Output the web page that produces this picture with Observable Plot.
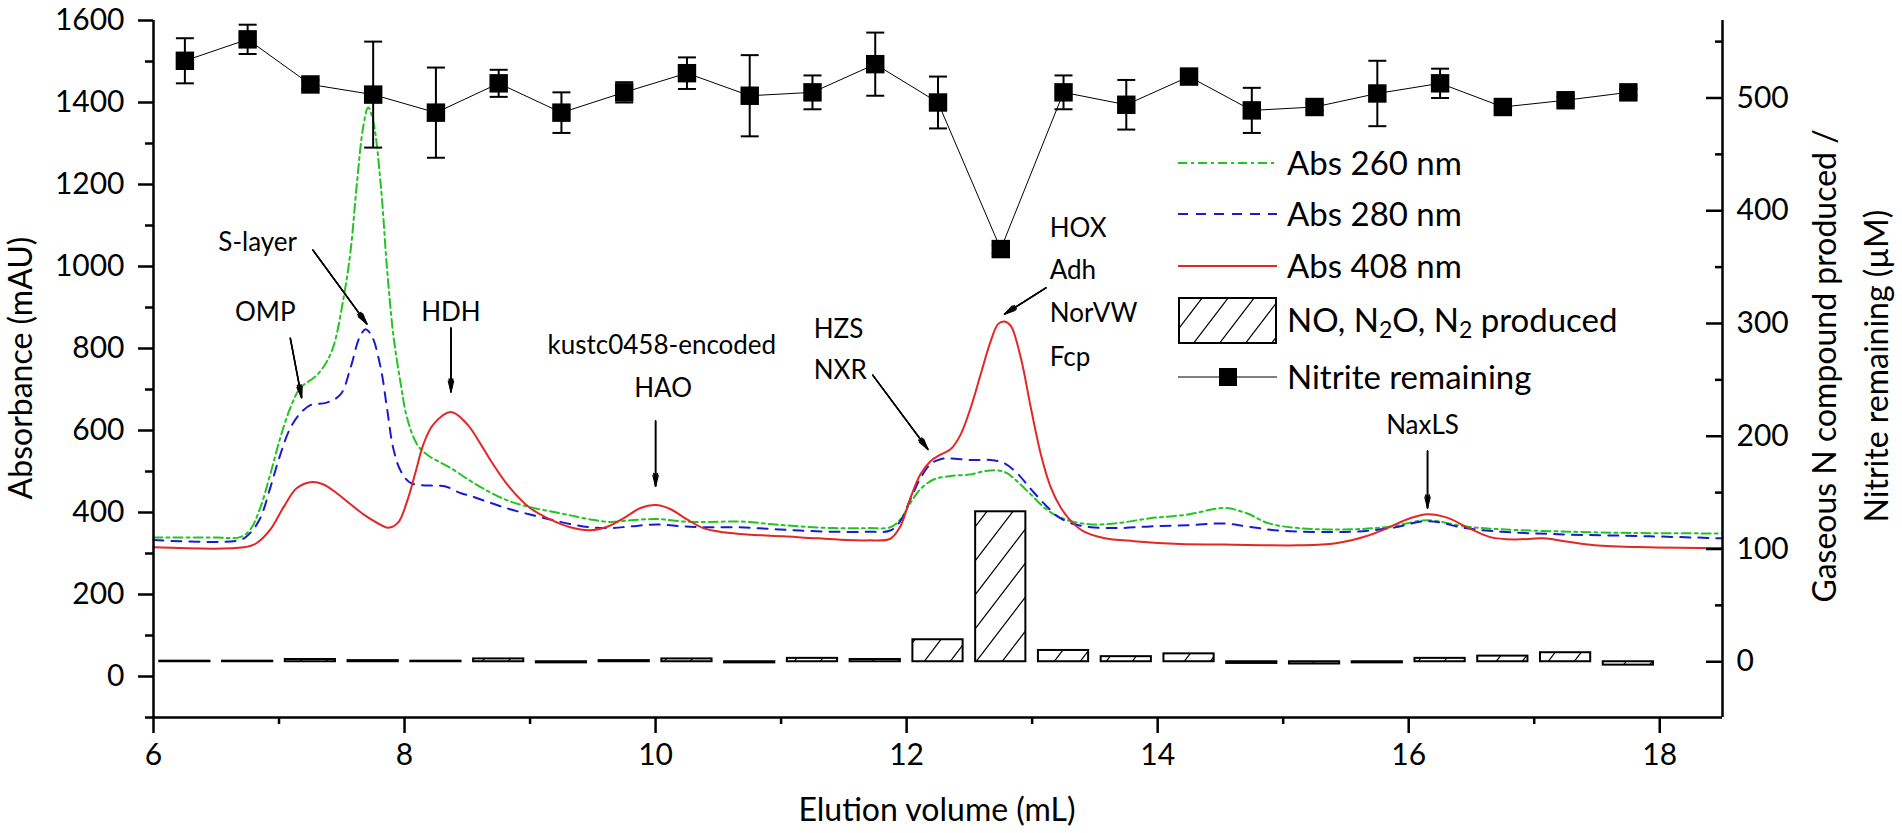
<!DOCTYPE html>
<html>
<head>
<meta charset="utf-8">
<script src="https://cdn.jsdelivr.net/npm/d3@7"></script>
<script src="https://cdn.jsdelivr.net/npm/@observablehq/plot@0.6"></script>
<style>
  html, body { margin: 0; padding: 0; background: white; }
  #chart { width: 1902px; height: 833px; }
</style>
</head>
<body>
<div id="chart"></div>
<script>
// ---------------- DATA ----------------
// Abs 260 nm (green, dash-dot)
const vol260 = [6.0,6.5,6.69,6.77,6.85,6.93,7.01,7.09,7.17,7.28,7.35,7.43,7.51,7.57,7.62,7.67,7.71,7.75,7.81,7.86,7.91,7.97,8.02,8.10,8.18,8.37,8.53,8.69,8.84,9.00,9.16,9.32,9.48,9.64,9.80,10.01,10.22,10.43,10.67,10.91,11.15,11.42,11.69,11.87,11.95,12.03,12.11,12.22,12.35,12.51,12.62,12.72,12.80,12.88,12.99,13.10,13.20,13.31,13.47,13.68,13.94,14.24,14.53,14.71,14.88,15.12,15.56,15.86,16.15,16.45,16.74,17.19,17.78,18.5];
const abs260 = [339,339,340,358,411,493,582,655,704,729,753,802,916,1038,1201,1339,1388,1355,1201,997,835,713,631,566,541,508,476,448,427,413,403,393,383,377,381,384,378,377,378,372,366,362,362,364,383,423,457,481,489,493,501,503,496,476,444,411,391,379,371,374,386,395,411,398,374,362,359,366,381,366,359,354,350,349];
// Abs 280 nm (blue, dashed)
const vol280 = [6.0,6.69,6.77,6.85,6.93,7.01,7.09,7.17,7.25,7.38,7.49,7.57,7.64,7.69,7.74,7.81,7.86,7.91,7.97,8.05,8.18,8.32,8.45,8.53,8.69,8.84,9.00,9.16,9.32,9.48,9.64,9.80,10.01,10.22,10.43,10.67,10.91,11.15,11.42,11.69,11.87,11.95,12.03,12.11,12.19,12.27,12.35,12.51,12.67,12.78,12.88,12.99,13.10,13.20,13.31,13.47,13.68,13.94,14.24,14.53,14.71,14.97,15.53,15.86,16.15,16.45,16.74,17.19,17.92,18.5];
const abs280 = [333,333,350,386,460,541,606,642,662,668,688,753,826,847,830,753,655,557,501,472,466,464,447,440,423,408,395,383,372,364,362,366,371,366,364,364,360,356,353,353,356,379,432,484,518,530,532,528,528,520,496,457,420,391,374,364,362,366,369,373,366,356,353,362,379,362,353,347,342,337];
// Abs 408 nm (red, solid)
const vol408 = [6.0,6.72,6.82,6.93,7.04,7.14,7.25,7.35,7.46,7.57,7.67,7.78,7.87,7.95,8.02,8.09,8.15,8.23,8.37,8.50,8.61,8.69,8.84,9.00,9.16,9.32,9.48,9.62,9.75,9.88,10.0,10.12,10.25,10.38,10.54,10.76,11.02,11.29,11.69,11.87,11.95,12.03,12.11,12.19,12.27,12.35,12.43,12.51,12.59,12.67,12.73,12.78,12.83,12.91,12.99,13.07,13.15,13.23,13.31,13.41,13.57,13.81,14.18,14.53,15.12,15.42,15.66,15.83,16.01,16.15,16.30,16.48,16.65,16.84,17.07,17.24,17.48,17.92,18.5];
const abs408 = [315,315,325,358,415,459,474,469,447,420,396,375,363,376,427,501,566,615,645,615,565,525,460,411,383,364,357,366,387,411,418,408,383,362,352,346,342,337,332,336,366,435,493,525,541,554,590,655,737,818,860,866,855,777,655,541,460,411,379,354,338,330,323,322,320,325,342,362,386,396,388,362,340,334,337,330,320,315,313];

// Fractions (right axis, µM)
const fractionVol = [6.25,6.75,7.25,7.75,8.25,8.75,9.25,9.75,10.25,10.75,11.25,11.75,12.25,12.75,13.25,13.75,14.25,14.75,15.25,15.75,16.25,16.75,17.25,17.75];
const nitriteRemaining = [533,552,512,503,487,513,487,505,522,502,505,530,496,366,505,494,519,489,492,504,513,492,498,505];
const nitriteError    = [20,13,4,47,40,12,18,9,14,36,15,28,23,4,15,22,4,20,3,29,13,3,3,3];
const gasProduced     = [0.5,0.5,2,1,0.5,2.5,-1,1,2.5,-1,3,2,19.5,133,10,4.5,7,-1.5,-2,-1,3,5,8,-3];

// Axis ticks
const xMajor = [6,8,10,12,14,16,18];
const xMinor = [7,9,11,13,15,17];
const yLeftMajor = [0,200,400,600,800,1000,1200,1400,1600];
const yLeftMinor = [-100,100,300,500,700,900,1100,1300,1500];
const yRightMajor = [0,100,200,300,400,500];
const yRightMinor = [50,150,250,350,450,550];

// Annotations (x in mL, y in mAU)
const labelsCentered = [
  {text:"S-layer", x:6.83, y:1058},
  {text:"OMP", x:6.89, y:887},
  {text:"HDH", x:8.37, y:887},
  {text:"kustc0458-encoded", x:10.05, y:806},
  {text:"HAO", x:10.06, y:701},
  {text:"NaxLS", x:16.11, y:611}
];
const labelsLeft = [
  {text:"HZS", x:11.26, y:847},
  {text:"NXR", x:11.26, y:745},
  {text:"HOX", x:13.14, y:1092},
  {text:"Adh", x:13.14, y:989},
  {text:"NorVW", x:13.14, y:884},
  {text:"Fcp", x:13.14, y:777}
];
const arrows = [
  {x1:7.27, y1:1040, x2:7.70, y2:860},
  {x1:7.09, y1:825, x2:7.18, y2:680},
  {x1:8.37, y1:850, x2:8.37, y2:694},
  {x1:10.0, y1:623, x2:10.0, y2:464},
  {x1:11.73, y1:735, x2:12.17, y2:554},
  {x1:13.11, y1:948, x2:12.78, y2:884},
  {x1:16.15, y1:550, x2:16.15, y2:411}
];

// ---------------- BUILD ----------------
const toLeft = r => 36 + 2.75 * r;       // right axis (µM) -> left axis (mAU)
const fromLeft = L => (L - 36) / 2.75;

const green = "#22c422", blue = "#1a1ad2", red = "#e32626";
const s260 = d3.zip(vol260, abs260).map(([x, y]) => ({x, y}));
const s280 = d3.zip(vol280, abs280).map(([x, y]) => ({x, y}));
const s408 = d3.zip(vol408, abs408).map(([x, y]) => ({x, y}));
const fr = fractionVol.map((x, i) => ({
  x, r: nitriteRemaining[i], e: nitriteError[i], g: gasProduced[i]
}));

const capSymbol = {
  draw(ctx, size) {
    const r = Math.sqrt(size / Math.PI);
    ctx.moveTo(-r, 0); ctx.lineTo(r, 0);
  }
};

const AX = 2.5;
const ANN = 26;
const plot = Plot.plot({
  width: 1902, height: 833,
  marginLeft: 153, marginRight: 180, marginTop: 20, marginBottom: 116,
  style: {fontFamily: "Lato, 'Open Sans', sans-serif", background: "white", color: "black"},
  x: {domain: [6, 18.5]},
  y: {domain: [-100, 1600]},
  marks: [
    // bars: gaseous N produced
    Plot.rect(fr, {x1: d => d.x - 0.2, x2: d => d.x + 0.2, y1: () => toLeft(0), y2: d => toLeft(d.g),
      fill: "url(#hatch)", stroke: "black", strokeWidth: 2}),
    // absorbance curves
    Plot.line(s260, {x: "x", y: "y", stroke: green, strokeWidth: 2, strokeDasharray: "9,4,3,4", curve: "catmull-rom"}),
    Plot.line(s280, {x: "x", y: "y", stroke: blue, strokeWidth: 2, strokeDasharray: "10,8", curve: "catmull-rom"}),
    Plot.line(s408, {x: "x", y: "y", stroke: red, strokeWidth: 2, curve: "catmull-rom"}),
    // nitrite remaining
    Plot.line(fr, {x: "x", y: d => toLeft(d.r), stroke: "black", strokeWidth: 1}),
    Plot.link(fr, {x1: "x", x2: "x", y1: d => toLeft(d.r - d.e), y2: d => toLeft(d.r + d.e), stroke: "black", strokeWidth: 2}),
    Plot.dot(fr, {x: "x", y: d => toLeft(d.r + d.e), symbol: capSymbol, r: 9, stroke: "black", strokeWidth: 2}),
    Plot.dot(fr, {x: "x", y: d => toLeft(d.r - d.e), symbol: capSymbol, r: 9, stroke: "black", strokeWidth: 2}),
    Plot.dot(fr, {x: "x", y: d => toLeft(d.r), symbol: "square", r: 10.4, fill: "black", stroke: null}),
    // annotations
    Plot.arrow(arrows, {x1: "x1", y1: "y1", x2: "x2", y2: "y2", stroke: "black", strokeWidth: 1.2, headLength: 14, headAngle: 28}),
    Plot.arrow(arrows, {x1: "x1", y1: "y1", x2: "x2", y2: "y2", stroke: "black", strokeWidth: 1.5, headLength: 13, headAngle: 16}),
    Plot.arrow(arrows, {x1: "x1", y1: "y1", x2: "x2", y2: "y2", stroke: "black", strokeWidth: 1.5, headLength: 12, headAngle: 6}),
    Plot.text(labelsCentered, {x: "x", y: "y", text: "text", textAnchor: "middle", fontSize: ANN, fill: "black"}),
    Plot.text(labelsLeft, {x: "x", y: "y", text: "text", textAnchor: "start", fontSize: ANN, fill: "black"}),
    // axes
    Plot.axisX({ticks: xMajor, tickSize: 16, tickPadding: 10, fontSize: 30, label: null, strokeWidth: AX, tickFormat: d => String(d)}),
    Plot.axisX({ticks: xMinor, tickSize: 7, tickFormat: () => "", label: null, strokeWidth: AX}),
    Plot.axisY({ticks: yLeftMajor, tickSize: 15, tickPadding: 14, fontSize: 30, label: null, strokeWidth: AX, tickFormat: d => String(d)}),
    Plot.axisY({ticks: yLeftMinor, tickSize: 8, tickFormat: () => "", label: null, strokeWidth: AX}),
    Plot.axisY({ticks: yRightMajor.map(toLeft), anchor: "right", tickSize: 0, tickPadding: 14, fontSize: 30,
      tickFormat: d => String(Math.round(fromLeft(d))), label: null}),
    Plot.axisY({ticks: yRightMajor.map(toLeft), anchor: "right", tickSize: 17, dx: -17, tickFormat: () => "", label: null, strokeWidth: AX}),
    Plot.axisY({ticks: yRightMinor.map(toLeft), anchor: "right", tickSize: 8, dx: -8, tickFormat: () => "", label: null, strokeWidth: AX}),
    Plot.ruleX([6], {strokeWidth: AX}),
    Plot.ruleX([18.5], {strokeWidth: AX}),
    Plot.ruleY([-100], {strokeWidth: AX})
  ]
});

const svg = d3.select(plot);
// hatch pattern
const defs = svg.insert("defs", ":first-child");
const pat = defs.append("pattern").attr("id", "hatch").attr("patternUnits", "userSpaceOnUse")
  .attr("width", 26).attr("height", 34);
pat.append("rect").attr("width", 26).attr("height", 34).attr("fill", "white");
pat.append("path").attr("d", "M0,34L26,0M-6.5,8.5L6.5,-8.5M19.5,42.5L32.5,25.5")
  .attr("stroke", "black").attr("stroke-width", 1.2).attr("fill", "none");

// axis titles
const FONT = "Lato, 'Open Sans', sans-serif";
const titles = svg.append("g").attr("font-family", FONT).attr("fill", "black").attr("text-anchor", "middle");
titles.append("text").attr("x", 937).attr("y", 821).attr("font-size", 32).text("Elution volume (mL)");
titles.append("text").attr("transform", "translate(32,368) rotate(-90)").attr("font-size", 32).text("Absorbance (mAU)");
titles.append("text").attr("transform", "translate(1836,366) rotate(-90)").attr("font-size", 32).text("Gaseous N compound produced /");
titles.append("text").attr("transform", "translate(1888,366) rotate(-90)").attr("font-size", 32).text("Nitrite remaining (\u00B5M)");

// legend
const lg = svg.append("g").attr("font-family", FONT).attr("font-size", 33).attr("fill", "black").attr("text-anchor", "start");
const lx1 = 1178, lx2 = 1277, tx = 1287;
const rows = [
  {y: 163, stroke: green, dash: "9,4,3,4", text: "Abs 260 nm"},
  {y: 214, stroke: blue, dash: "10,8", text: "Abs 280 nm"},
  {y: 266, stroke: red, dash: null, text: "Abs 408 nm"}
];
rows.forEach(r => {
  lg.append("line").attr("x1", lx1).attr("x2", lx2).attr("y1", r.y).attr("y2", r.y)
    .attr("stroke", r.stroke).attr("stroke-width", 2).attr("stroke-dasharray", r.dash);
  lg.append("text").attr("x", tx).attr("y", r.y + 12).text(r.text);
});
lg.append("rect").attr("x", 1179).attr("y", 298).attr("width", 97).attr("height", 45)
  .attr("fill", "url(#hatch)").attr("stroke", "black").attr("stroke-width", 2);
const t4 = lg.append("text").attr("x", tx).attr("y", 320 + 12);
t4.append("tspan").text("NO, N");
t4.append("tspan").attr("font-size", 23).attr("dy", 6).text("2");
t4.append("tspan").attr("dy", -6).text("O, N");
t4.append("tspan").attr("font-size", 23).attr("dy", 6).text("2");
t4.append("tspan").attr("dy", -6).text(" produced");
lg.append("line").attr("x1", lx1).attr("x2", lx2).attr("y1", 377).attr("y2", 377).attr("stroke", "black").attr("stroke-width", 1);
lg.append("rect").attr("x", 1219).attr("y", 368).attr("width", 18).attr("height", 18).attr("fill", "black");
lg.append("text").attr("x", tx).attr("y", 377 + 12).text("Nitrite remaining");

document.getElementById("chart").appendChild(plot);
</script>
</body>
</html>
